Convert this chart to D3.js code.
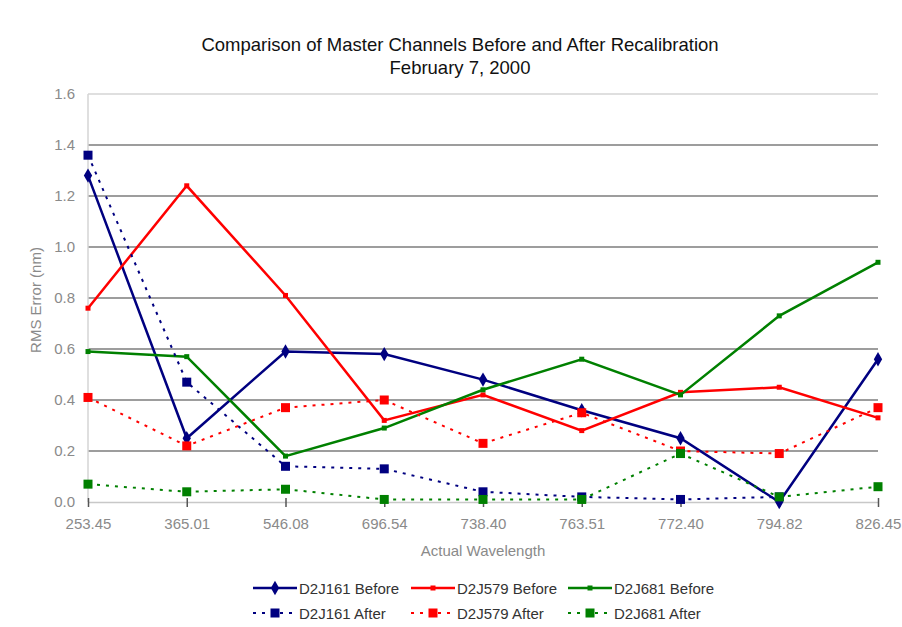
<!DOCTYPE html>
<html>
<head>
<meta charset="utf-8">
<script src="https://cdn.jsdelivr.net/npm/d3@7"></script>
<style>
  html, body { margin: 0; padding: 0; background: #fff; }
  svg { display: block; font-family: "Liberation Sans", Arial, sans-serif; }
</style>
</head>
<body>
<svg id="chart" width="902" height="627"></svg>
<script>
// Wavelength categories along the x axis
const wavelengths = ["253.45", "365.01", "546.08", "696.54", "738.40", "763.51", "772.40", "794.82", "826.45"];

// RMS error (nm) per master channel, before and after recalibration
const d2j161Before = [1.28, 0.25, 0.59, 0.58, 0.48, 0.36, 0.25, 0.00, 0.56];
const d2j579Before = [0.76, 1.24, 0.81, 0.32, 0.42, 0.28, 0.43, 0.45, 0.33];
const d2j681Before = [0.59, 0.57, 0.18, 0.29, 0.44, 0.56, 0.42, 0.73, 0.94];
const d2j161After  = [1.36, 0.47, 0.14, 0.13, 0.04, 0.02, 0.01, 0.02, null];
const d2j579After  = [0.41, 0.22, 0.37, 0.40, 0.23, 0.35, 0.20, 0.19, 0.37];
const d2j681After  = [0.07, 0.04, 0.05, 0.01, 0.01, 0.01, 0.19, 0.02, 0.06];

const yTicks = [0, 0.2, 0.4, 0.6, 0.8, 1.0, 1.2, 1.4, 1.6];

const series = [
  { name: "D2J161 Before", values: d2j161Before, color: "#000080", after: false, marker: "diamond" },
  { name: "D2J579 Before", values: d2j579Before, color: "#ff0000", after: false, marker: "smallsq" },
  { name: "D2J681 Before", values: d2j681Before, color: "#008000", after: false, marker: "smallsq" },
  { name: "D2J161 After",  values: d2j161After,  color: "#000080", after: true,  marker: "square" },
  { name: "D2J579 After",  values: d2j579After,  color: "#ff0000", after: true,  marker: "square" },
  { name: "D2J681 After",  values: d2j681After,  color: "#008000", after: true,  marker: "square" }
];

const svg = d3.select("#chart");
const plot = { left: 88, right: 878, top: 94, bottom: 502 };

const x = d3.scalePoint().domain(wavelengths).range([plot.left, plot.right]).padding(0);
const y = d3.scaleLinear().domain([0, 1.6]).range([plot.bottom, plot.top]);

// Title
svg.append("text").attr("x", 460).attr("y", 51).attr("text-anchor", "middle")
  .attr("font-size", 18.5).attr("fill", "#111")
  .text("Comparison of Master Channels Before and After Recalibration");
svg.append("text").attr("x", 460).attr("y", 74).attr("text-anchor", "middle")
  .attr("font-size", 18.5).attr("fill", "#111")
  .text("February 7, 2000");

// Horizontal gridlines
svg.append("g").selectAll("line").data(yTicks.filter(t => t > 0 && t < 1.6)).join("line")
  .attr("x1", plot.left).attr("x2", plot.right)
  .attr("y1", d => y(d)).attr("y2", d => y(d))
  .attr("stroke", "#7c7c7c").attr("stroke-width", 1.6);

// Top border and left axis
svg.append("line").attr("x1", plot.left).attr("x2", plot.right)
  .attr("y1", y(1.6)).attr("y2", y(1.6)).attr("stroke", "#d4d4d4").attr("stroke-width", 1.5);
svg.append("line").attr("x1", plot.left).attr("x2", plot.left)
  .attr("y1", y(1.6)).attr("y2", y(0)).attr("stroke", "#d4d4d4").attr("stroke-width", 1.5);

// Y axis
const yAxis = d3.axisLeft(y).tickValues(yTicks).tickFormat(d3.format(".1f")).tickSize(0).tickPadding(13);
const gy = svg.append("g").attr("transform", `translate(${plot.left},0)`).call(yAxis);
gy.select(".domain").remove();
gy.selectAll("text").attr("font-size", 15).attr("fill", "#8a8a8a")
  .attr("font-family", "'Liberation Sans', Arial, sans-serif");

// X axis
const xAxis = d3.axisBottom(x).tickSize(0).tickPadding(16);
const gx = svg.append("g").attr("transform", `translate(0,${plot.bottom})`).call(xAxis);
gx.select(".domain").attr("stroke", "#c8c8c8").attr("stroke-width", 1.5);
gx.selectAll("text").attr("font-size", 15).attr("fill", "#8a8a8a")
  .attr("font-family", "'Liberation Sans', Arial, sans-serif");
gx.selectAll(".tick").append("line").attr("y1", -4).attr("y2", 5)
  .attr("stroke", "#555").attr("stroke-width", 1.5);

// Axis titles
svg.append("text").attr("x", 483).attr("y", 556).attr("text-anchor", "middle")
  .attr("font-size", 15).attr("fill", "#8a8a8a").text("Actual Wavelength");
svg.append("text").attr("transform", "translate(41,300) rotate(-90)").attr("text-anchor", "middle")
  .attr("font-size", 15).attr("fill", "#8a8a8a").text("RMS Error (nm)");

// Marker shapes
const symDiamond = d3.symbol().type(d3.symbolDiamond).size(60);
function drawMarker(g, kind, color, cx, cy) {
  if (kind === "diamond") {
    g.append("path").attr("d", symDiamond()).attr("transform", `translate(${cx},${cy})`).attr("fill", color);
  } else {
    const s = kind === "square" ? 9 : 5;
    g.append("rect").attr("x", cx - s / 2).attr("y", cy - s / 2).attr("width", s).attr("height", s).attr("fill", color);
  }
}

const line = d3.line()
  .defined(d => d.v !== null)
  .x(d => x(d.c)).y(d => y(d.v));

const marks = svg.append("g");
series.forEach(s => {
  const pts = s.values.map((v, i) => ({ c: wavelengths[i], v }));
  const g = marks.append("g");
  g.append("path").attr("d", line(pts)).attr("fill", "none")
    .attr("stroke", s.color)
    .attr("stroke-width", s.after ? 2 : 2.5)
    .attr("stroke-dasharray", s.after ? "3,6" : null);
  pts.filter(p => p.v !== null).forEach(p => drawMarker(g, s.marker, s.color, x(p.c), y(p.v)));
});

// Legend
const legCols = [253, 411, 568];
const legRows = [588, 613];
const legend = svg.append("g");
series.forEach((s, i) => {
  const lx = legCols[i % 3], ly = legRows[Math.floor(i / 3)];
  const g = legend.append("g");
  g.append("line").attr("x1", lx).attr("x2", lx + 44).attr("y1", ly).attr("y2", ly)
    .attr("stroke", s.color).attr("stroke-width", s.after ? 2 : 2.5)
    .attr("stroke-dasharray", s.after ? "3,6" : null);
  drawMarker(g, s.after ? "square" : (s.marker === "diamond" ? "diamond" : "smallsq"), s.color, lx + 22, ly);
  g.append("text").attr("x", lx + 46).attr("y", ly + 5.5).attr("font-size", 15)
    .attr("fill", "#333").text(s.name);
});
</script>
</body>
</html>
